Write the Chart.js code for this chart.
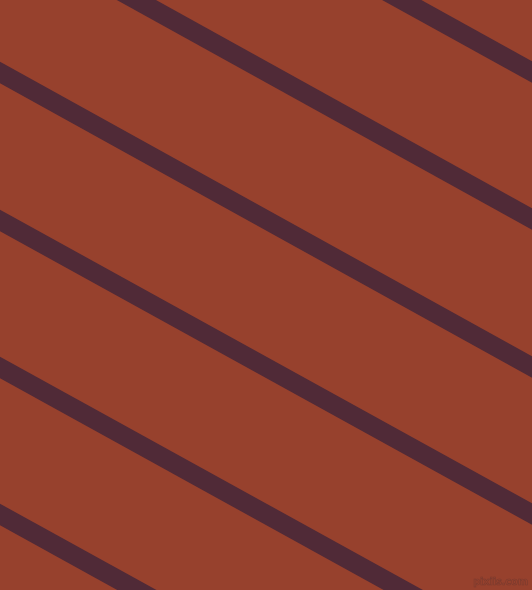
<!DOCTYPE html>
<html>
<head>
<meta charset="utf-8">
<script src="https://cdn.jsdelivr.net/npm/chart.js@4"></script>
<style>
  html, body { margin: 0; padding: 0; background: #97412d; }
  .wrap { position: relative; width: 532px; height: 590px; }
  canvas { display: block; }
  .mark {
    position: absolute; right: 4px; bottom: 3px;
    font-family: "DejaVu Sans", sans-serif; font-size: 10px; font-weight: bold;
    color: transparent; -webkit-text-stroke: 0.6px #7a3a2e; letter-spacing: -0.2px;
  }
</style>
</head>
<body>
<div class="wrap">
  <canvas id="stripes" width="532" height="590"></canvas>
  <span class="mark">pixiis.com</span>
</div>
<script>
// stripe centre lines, y where each one meets the left (x=0) and right (x=532) edge
const stripeLeftY = [-222, -75.5, 72.5, 220.5, 367.5, 514.5];
const stripeRightY = [72, 219, 367, 514, 661, 808];
const xEdges = [0, 532];

const datasets = stripeLeftY.map((y0, i) => ({
  label: "stripe " + (i + 1),
  data: [
    { x: xEdges[0], y: y0 },
    { x: xEdges[1], y: stripeRightY[i] },
  ],
  showLine: true,
  borderColor: "#502a37",
  borderWidth: 19,
  pointRadius: 0,
  borderCapStyle: "square", // square ends so the stripe fills the canvas edge
}));

new Chart(document.getElementById("stripes").getContext("2d"), {
  type: "scatter",
  data: { datasets },
  options: {
    responsive: false,
    animation: false,
    devicePixelRatio: 1,
    layout: { padding: 0 },
    plugins: { legend: { display: false }, tooltip: { enabled: false } },
    scales: {
      x: { type: "linear", min: 0, max: 532, display: false },
      y: { type: "linear", min: 0, max: 590, reverse: true, display: false },
    },
  },
});
</script>
</body>
</html>
